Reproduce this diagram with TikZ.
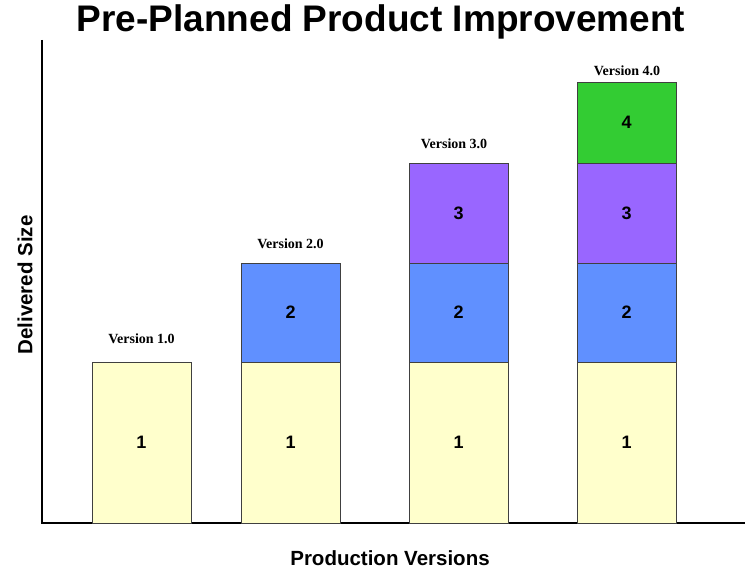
\documentclass[tikz,border=0pt]{standalone}
\usepackage{fontspec}
\setmainfont{Liberation Sans}
\newfontfamily\verfont{Liberation Serif}
\definecolor{baseyellow}{HTML}{FFFFCC}
\definecolor{incblue}{HTML}{6090FF}
\definecolor{incpurple}{HTML}{9966FF}
\definecolor{incgreen}{HTML}{33CC33}
\begin{document}
\begin{tikzpicture}[x=1pt,y=-1pt,
    blk/.style={draw=black!75,line width=0.8pt,minimum width=99pt,inner sep=0pt,outer sep=0pt,anchor=south,font=\bfseries\fontsize{18}{18}\selectfont},
    ver/.style={font=\verfont\bfseries\fontsize{14}{14}\selectfont},
    axlabel/.style={inner sep=0pt,font=\bfseries\fontsize{20.5}{20.5}\selectfont}]
      \useasboundingbox (0,0) rectangle (751,569);
      % axes
      \coordinate (top) at (42,40);
      \coordinate (orig) at (42,523);
      \coordinate (right) at (745,523);
      \draw[line width=2.4pt] (top) -- (orig) -- (right);
      \node[inner sep=0pt,font=\bfseries\fontsize{37}{37}\selectfont] (title) at (381,22) {Pre-Planned Product Improvement};
      \node[axlabel,rotate=90] (ylab) at (25,285) {Delivered Size};
      \node[axlabel] (xlab) at (390,558) {Production Versions};
      % version 1.0
      \node[blk,fill=baseyellow,minimum height=161pt] (v1a) at (141.5,523) {1};
      \node[ver] (v1) at (141.5,339) {Version 1.0};
      % version 2.0
      \node[blk,fill=baseyellow,minimum height=161pt] (v2a) at (290.5,523) {1};
      \node[blk,fill=incblue,minimum height=99pt] (v2b) at (v2a.north) {2};
      \node[ver] (v2) at (290.5,244) {Version 2.0};
      % version 3.0
      \node[blk,fill=baseyellow,minimum height=161pt] (v3a) at (458.5,523) {1};
      \node[blk,fill=incblue,minimum height=99pt] (v3b) at (v3a.north) {2};
      \node[blk,fill=incpurple,minimum height=100pt] (v3c) at (v3b.north) {3};
      \node[ver] (v3) at (454,144) {Version 3.0};
      % version 4.0
      \node[blk,fill=baseyellow,minimum height=161pt] (v4a) at (626.5,523) {1};
      \node[blk,fill=incblue,minimum height=99pt] (v4b) at (v4a.north) {2};
      \node[blk,fill=incpurple,minimum height=100pt] (v4c) at (v4b.north) {3};
      \node[blk,fill=incgreen,minimum height=81pt] (v4d) at (v4c.north) {4};
      \node[ver] (v4) at (627,71) {Version 4.0};
    \end{tikzpicture}
\end{document}
